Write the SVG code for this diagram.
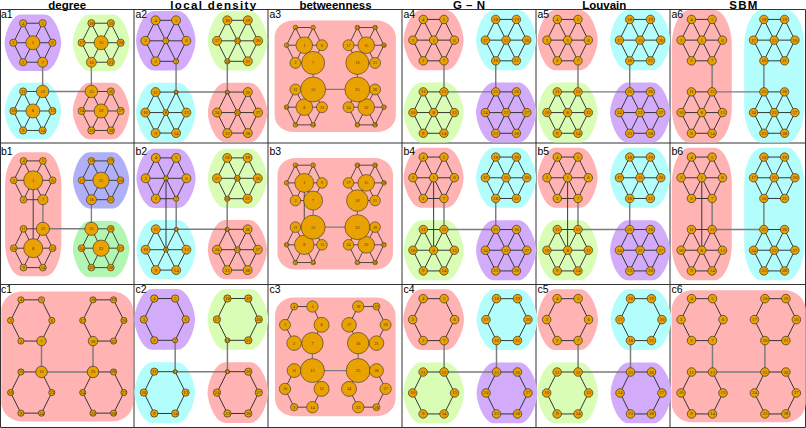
<svg xmlns="http://www.w3.org/2000/svg" width="806" height="428" viewBox="0 0 806 428">
<style>
.e{fill:none;stroke:#333;stroke-width:.95}
.x{fill:none;stroke:#7c7c7c;stroke-width:1.4}
.n circle{fill:#E9A200;stroke:#262626;stroke-width:.6}
.l{font-family:"Liberation Serif","DejaVu Serif",serif;font-size:4.6px;fill:#4a2400;text-anchor:middle;dominant-baseline:central}
.t{font-family:"Liberation Sans",Arial,sans-serif;font-weight:bold;font-size:11.5px;text-anchor:middle;fill:#000}
.p{font-family:"Liberation Sans",Arial,sans-serif;font-size:10.5px;fill:#000}
.fr{fill:none;stroke:#333;stroke-width:1}
.R{fill:#FFB3B3}.G{fill:#D9FDB4}.C{fill:#B3FDFD}.P{fill:#D2ABFA}.B{fill:#B0B0F8}.Gr{fill:#B3F6B3}
</style>
<defs>
<path id="B1" d="M-12,-29L12,-29C22,-29 29,-9 29,0C29,9 22,29 12,29L-12,29C-22,29 -29,9 -29,0C-29,-9 -22,-29 -12,-29Z"/>
<path id="BV" d="M-12,-64L12,-64C22,-64 29,-46 29,-30L29,30C29,46 22,64 12,64L-12,64C-22,64 -29,46 -29,30L-29,-30C-29,-46 -22,-64 -12,-64Z"/>
<path id="BA" d="M-44,-63L44,-63C55,-63 64,-54 64,-44L64,44C64,55 55,63 44,63L-44,63C-55,63 -64,55 -64,44L-64,-44C-64,-55 -55,-63 -44,-63Z"/>
<path id="H" class="e" d="M-45,-55L-25,-55L-15,-35L-25,-15L-45,-15L-55,-35Z M25,-55L45,-55L55,-35L45,-15L25,-15L15,-35Z M-45,15L-25,15L-15,35L-25,55L-45,55L-55,35Z M25,15L45,15L55,35L45,55L25,55L15,35Z"/>
<path id="S" class="e" d="M-45,-55L-25,-15M-25,-55L-45,-15M-55,-35L-15,-35 M25,-55L45,-15M45,-55L25,-15M15,-35L55,-35 M-45,15L-25,55M-25,15L-45,55M-55,35L-15,35 M25,15L45,55M45,15L25,55M15,35L55,35"/>
<path id="X" class="x" d="M-25,-15L-25,15L25,15L25,-15"/>
<path id="Y" class="e" d="M-35,-35L-35,35"/>
<g id="Lf" class="l">
<text x="-35" y="-35">1</text><text x="-45" y="-15">2</text><text x="-55" y="-35">3</text><text x="-45" y="-55">4</text><text x="-25" y="-55">5</text><text x="-15" y="-35">6</text><text x="-25" y="-15">7</text>
<text x="-35" y="35">8</text><text x="-45" y="55">9</text><text x="-55" y="35">10</text><text x="-45" y="15">11</text><text x="-25" y="15">12</text><text x="-15" y="35">13</text><text x="-25" y="55">14</text>
<text x="35" y="-35">15</text><text x="25" y="-15">16</text><text x="15" y="-35">17</text><text x="25" y="-55">18</text><text x="45" y="-55">19</text><text x="55" y="-35">20</text><text x="45" y="-15">21</text>
<text x="35" y="35">22</text><text x="25" y="55">23</text><text x="15" y="35">24</text><text x="25" y="15">25</text><text x="45" y="15">26</text><text x="55" y="35">27</text><text x="45" y="55">28</text>
</g>
<g id="Lc" class="l">
<text x="-45" y="-15">2</text><text x="-55" y="-35">3</text><text x="-45" y="-55">4</text><text x="-25" y="-55">5</text><text x="-15" y="-35">6</text><text x="-25" y="-15">7</text>
<text x="-45" y="55">9</text><text x="-55" y="35">10</text><text x="-45" y="15">11</text><text x="-25" y="15">12</text><text x="-15" y="35">13</text><text x="-25" y="55">14</text>
<text x="25" y="-15">16</text><text x="15" y="-35">17</text><text x="25" y="-55">18</text><text x="45" y="-55">19</text><text x="55" y="-35">20</text><text x="45" y="-15">21</text>
<text x="25" y="55">23</text><text x="15" y="35">24</text><text x="25" y="15">25</text><text x="45" y="15">26</text><text x="55" y="35">27</text><text x="45" y="55">28</text>
</g>
<g id="Na1" class="n">
<circle cx="-35" cy="-35" r="7.2"/><circle cx="-45" cy="-15" r="3.7"/><circle cx="-55" cy="-35" r="3.7"/><circle cx="-45" cy="-55" r="3.7"/><circle cx="-25" cy="-55" r="3.7"/><circle cx="-15" cy="-35" r="3.7"/><circle cx="-25" cy="-15" r="5.1"/>
<circle cx="-35" cy="35" r="7.2"/><circle cx="-45" cy="55" r="3.7"/><circle cx="-55" cy="35" r="3.7"/><circle cx="-45" cy="15" r="3.7"/><circle cx="-25" cy="15" r="6.4"/><circle cx="-15" cy="35" r="3.7"/><circle cx="-25" cy="55" r="3.7"/>
<circle cx="35" cy="-35" r="7.2"/><circle cx="25" cy="-15" r="5.1"/><circle cx="15" cy="-35" r="3.7"/><circle cx="25" cy="-55" r="3.7"/><circle cx="45" cy="-55" r="3.7"/><circle cx="55" cy="-35" r="3.7"/><circle cx="45" cy="-15" r="3.7"/>
<circle cx="35" cy="35" r="7.2"/><circle cx="25" cy="55" r="3.7"/><circle cx="15" cy="35" r="3.7"/><circle cx="25" cy="15" r="6.4"/><circle cx="45" cy="15" r="3.7"/><circle cx="55" cy="35" r="3.7"/><circle cx="45" cy="55" r="3.7"/>
</g>
<g id="Na2" class="n">
<circle cx="-35" cy="-35" r="2.9"/><circle cx="-45" cy="-15" r="4.4"/><circle cx="-55" cy="-35" r="4.4"/><circle cx="-45" cy="-55" r="4.4"/><circle cx="-25" cy="-55" r="4.4"/><circle cx="-15" cy="-35" r="4.4"/><circle cx="-25" cy="-15" r="2.6"/>
<circle cx="-35" cy="35" r="2.9"/><circle cx="-45" cy="55" r="4.4"/><circle cx="-55" cy="35" r="4.4"/><circle cx="-45" cy="15" r="4.4"/><circle cx="-25" cy="15" r="2.0"/><circle cx="-15" cy="35" r="4.4"/><circle cx="-25" cy="55" r="4.4"/>
<circle cx="35" cy="-35" r="2.9"/><circle cx="25" cy="-15" r="2.6"/><circle cx="15" cy="-35" r="4.4"/><circle cx="25" cy="-55" r="4.4"/><circle cx="45" cy="-55" r="4.4"/><circle cx="55" cy="-35" r="4.4"/><circle cx="45" cy="-15" r="4.4"/>
<circle cx="35" cy="35" r="2.9"/><circle cx="25" cy="55" r="4.4"/><circle cx="15" cy="35" r="4.4"/><circle cx="25" cy="15" r="2.0"/><circle cx="45" cy="15" r="4.4"/><circle cx="55" cy="35" r="4.4"/><circle cx="45" cy="55" r="4.4"/>
</g>
<g id="Nb2" class="n">
<circle cx="-35" cy="-35" r="2.4"/><circle cx="-45" cy="-15" r="4.4"/><circle cx="-55" cy="-35" r="4.4"/><circle cx="-45" cy="-55" r="4.4"/><circle cx="-25" cy="-55" r="4.4"/><circle cx="-15" cy="-35" r="4.4"/><circle cx="-25" cy="-15" r="2.6"/>
<circle cx="-35" cy="35" r="2.4"/><circle cx="-45" cy="55" r="4.4"/><circle cx="-55" cy="35" r="4.4"/><circle cx="-45" cy="15" r="4.4"/><circle cx="-25" cy="15" r="2.0"/><circle cx="-15" cy="35" r="4.4"/><circle cx="-25" cy="55" r="4.4"/>
<circle cx="35" cy="-35" r="2.9"/><circle cx="25" cy="-15" r="2.6"/><circle cx="15" cy="-35" r="4.4"/><circle cx="25" cy="-55" r="4.4"/><circle cx="45" cy="-55" r="4.4"/><circle cx="55" cy="-35" r="4.4"/><circle cx="45" cy="-15" r="4.4"/>
<circle cx="35" cy="35" r="2.9"/><circle cx="25" cy="55" r="4.4"/><circle cx="15" cy="35" r="4.4"/><circle cx="25" cy="15" r="2.0"/><circle cx="45" cy="15" r="4.4"/><circle cx="55" cy="35" r="4.4"/><circle cx="45" cy="55" r="4.4"/>
</g>
<g id="Na3" class="n">
<circle cx="-35" cy="-35" r="9.4"/><circle cx="-45" cy="-15" r="6.2"/><circle cx="-55" cy="-35" r="2.6"/><circle cx="-45" cy="-55" r="2.6"/><circle cx="-25" cy="-55" r="2.6"/><circle cx="-15" cy="-35" r="6.2"/><circle cx="-25" cy="-15" r="13"/>
<circle cx="-35" cy="35" r="9.4"/><circle cx="-45" cy="55" r="2.6"/><circle cx="-55" cy="35" r="2.6"/><circle cx="-45" cy="15" r="6.2"/><circle cx="-25" cy="15" r="14.1"/><circle cx="-15" cy="35" r="6.2"/><circle cx="-25" cy="55" r="2.6"/>
<circle cx="35" cy="-35" r="9.4"/><circle cx="25" cy="-15" r="13"/><circle cx="15" cy="-35" r="6.2"/><circle cx="25" cy="-55" r="2.6"/><circle cx="45" cy="-55" r="2.6"/><circle cx="55" cy="-35" r="2.6"/><circle cx="45" cy="-15" r="6.2"/>
<circle cx="35" cy="35" r="9.4"/><circle cx="25" cy="55" r="2.6"/><circle cx="15" cy="35" r="6.2"/><circle cx="25" cy="15" r="14.1"/><circle cx="45" cy="15" r="6.2"/><circle cx="55" cy="35" r="2.6"/><circle cx="45" cy="55" r="2.6"/>
</g>
<g id="Nb3" class="n">
<circle cx="-35" cy="-35" r="10.7"/><circle cx="-45" cy="-15" r="6"/><circle cx="-55" cy="-35" r="2.6"/><circle cx="-45" cy="-55" r="2.6"/><circle cx="-25" cy="-55" r="2.6"/><circle cx="-15" cy="-35" r="6"/><circle cx="-25" cy="-15" r="10.7"/>
<circle cx="-35" cy="35" r="11"/><circle cx="-45" cy="55" r="2.6"/><circle cx="-55" cy="35" r="2.6"/><circle cx="-45" cy="15" r="6"/><circle cx="-25" cy="15" r="13.6"/><circle cx="-15" cy="35" r="6"/><circle cx="-25" cy="55" r="2.6"/>
<circle cx="35" cy="-35" r="9.4"/><circle cx="25" cy="-15" r="12.2"/><circle cx="15" cy="-35" r="6"/><circle cx="25" cy="-55" r="2.6"/><circle cx="45" cy="-55" r="2.6"/><circle cx="55" cy="-35" r="2.6"/><circle cx="45" cy="-15" r="6"/>
<circle cx="35" cy="35" r="9.4"/><circle cx="25" cy="55" r="2.6"/><circle cx="15" cy="35" r="6"/><circle cx="25" cy="15" r="14.1"/><circle cx="45" cy="15" r="6"/><circle cx="55" cy="35" r="2.6"/><circle cx="45" cy="55" r="2.6"/>
</g>
<g id="Nb1" class="n">
<circle cx="-35" cy="-35" r="9.8"/><circle cx="-45" cy="-15" r="3.5"/><circle cx="-55" cy="-35" r="3.5"/><circle cx="-45" cy="-55" r="3.5"/><circle cx="-25" cy="-55" r="3.5"/><circle cx="-15" cy="-35" r="3.5"/><circle cx="-25" cy="-15" r="5.2"/>
<circle cx="-35" cy="35" r="9.8"/><circle cx="-45" cy="55" r="3.5"/><circle cx="-55" cy="35" r="3.5"/><circle cx="-45" cy="15" r="3.5"/><circle cx="-25" cy="15" r="6.8"/><circle cx="-15" cy="35" r="3.5"/><circle cx="-25" cy="55" r="3.5"/>
<circle cx="35" cy="-35" r="8.4"/><circle cx="25" cy="-15" r="5.2"/><circle cx="15" cy="-35" r="3.5"/><circle cx="25" cy="-55" r="3.5"/><circle cx="45" cy="-55" r="3.5"/><circle cx="55" cy="-35" r="3.5"/><circle cx="45" cy="-15" r="3.5"/>
<circle cx="35" cy="35" r="8.4"/><circle cx="25" cy="55" r="3.5"/><circle cx="15" cy="35" r="3.5"/><circle cx="25" cy="15" r="6.8"/><circle cx="45" cy="15" r="3.5"/><circle cx="55" cy="35" r="3.5"/><circle cx="45" cy="55" r="3.5"/>
</g>
<g id="NU" class="n">
<circle cx="-35" cy="-35" r="4.1"/><circle cx="-45" cy="-15" r="4.1"/><circle cx="-55" cy="-35" r="4.1"/><circle cx="-45" cy="-55" r="4.1"/><circle cx="-25" cy="-55" r="4.1"/><circle cx="-15" cy="-35" r="4.1"/><circle cx="-25" cy="-15" r="4.1"/>
<circle cx="-35" cy="35" r="4.1"/><circle cx="-45" cy="55" r="4.1"/><circle cx="-55" cy="35" r="4.1"/><circle cx="-45" cy="15" r="4.1"/><circle cx="-25" cy="15" r="4.1"/><circle cx="-15" cy="35" r="4.1"/><circle cx="-25" cy="55" r="4.1"/>
<circle cx="35" cy="-35" r="4.1"/><circle cx="25" cy="-15" r="4.1"/><circle cx="15" cy="-35" r="4.1"/><circle cx="25" cy="-55" r="4.1"/><circle cx="45" cy="-55" r="4.1"/><circle cx="55" cy="-35" r="4.1"/><circle cx="45" cy="-15" r="4.1"/>
<circle cx="35" cy="35" r="4.1"/><circle cx="25" cy="55" r="4.1"/><circle cx="15" cy="35" r="4.1"/><circle cx="25" cy="15" r="4.1"/><circle cx="45" cy="15" r="4.1"/><circle cx="55" cy="35" r="4.1"/><circle cx="45" cy="55" r="4.1"/>
</g>
<g id="Nc1" class="n">
<circle cx="-45" cy="-15" r="3"/><circle cx="-55" cy="-35" r="3"/><circle cx="-45" cy="-55" r="3"/><circle cx="-25" cy="-55" r="3"/><circle cx="-15" cy="-35" r="3"/><circle cx="-25" cy="-15" r="4.6"/>
<circle cx="-45" cy="55" r="3"/><circle cx="-55" cy="35" r="3"/><circle cx="-45" cy="15" r="3"/><circle cx="-25" cy="15" r="5.6"/><circle cx="-15" cy="35" r="3"/><circle cx="-25" cy="55" r="3"/>
<circle cx="25" cy="-15" r="4.6"/><circle cx="15" cy="-35" r="3"/><circle cx="25" cy="-55" r="3"/><circle cx="45" cy="-55" r="3"/><circle cx="55" cy="-35" r="3"/><circle cx="45" cy="-15" r="3"/>
<circle cx="25" cy="55" r="3"/><circle cx="15" cy="35" r="3"/><circle cx="25" cy="15" r="5.6"/><circle cx="45" cy="15" r="3"/><circle cx="55" cy="35" r="3"/><circle cx="45" cy="55" r="3"/>
</g>
<g id="Nc2" class="n">
<circle cx="-45" cy="-15" r="3.5"/><circle cx="-55" cy="-35" r="3.5"/><circle cx="-45" cy="-55" r="3.5"/><circle cx="-25" cy="-55" r="3.5"/><circle cx="-15" cy="-35" r="3.5"/><circle cx="-25" cy="-15" r="2.4"/>
<circle cx="-45" cy="55" r="3.5"/><circle cx="-55" cy="35" r="3.5"/><circle cx="-45" cy="15" r="3.5"/><circle cx="-25" cy="15" r="2"/><circle cx="-15" cy="35" r="3.5"/><circle cx="-25" cy="55" r="3.5"/>
<circle cx="25" cy="-15" r="2.4"/><circle cx="15" cy="-35" r="3.5"/><circle cx="25" cy="-55" r="3.5"/><circle cx="45" cy="-55" r="3.5"/><circle cx="55" cy="-35" r="3.5"/><circle cx="45" cy="-15" r="3.5"/>
<circle cx="25" cy="55" r="3.5"/><circle cx="15" cy="35" r="3.5"/><circle cx="25" cy="15" r="2"/><circle cx="45" cy="15" r="3.5"/><circle cx="55" cy="35" r="3.5"/><circle cx="45" cy="55" r="3.5"/>
</g>
<g id="Nc3" class="n">
<circle cx="-45" cy="-15" r="8"/><circle cx="-55" cy="-35" r="6"/><circle cx="-45" cy="-55" r="3.8"/><circle cx="-25" cy="-55" r="6.2"/><circle cx="-15" cy="-35" r="8.2"/><circle cx="-25" cy="-15" r="11.7"/>
<circle cx="-45" cy="55" r="4"/><circle cx="-55" cy="35" r="6.2"/><circle cx="-45" cy="15" r="7.6"/><circle cx="-25" cy="15" r="13.1"/><circle cx="-15" cy="35" r="8.2"/><circle cx="-25" cy="55" r="6.3"/>
<circle cx="25" cy="-15" r="11.7"/><circle cx="15" cy="-35" r="8"/><circle cx="25" cy="-55" r="6.2"/><circle cx="45" cy="-55" r="3.8"/><circle cx="55" cy="-35" r="6"/><circle cx="45" cy="-15" r="8"/>
<circle cx="25" cy="55" r="6.3"/><circle cx="15" cy="35" r="8.2"/><circle cx="25" cy="15" r="13.1"/><circle cx="45" cy="15" r="7.6"/><circle cx="55" cy="35" r="6.2"/><circle cx="45" cy="55" r="3.8"/>
</g>
<g id="NUc" class="n">
<circle cx="-45" cy="-15" r="4.1"/><circle cx="-55" cy="-35" r="4.1"/><circle cx="-45" cy="-55" r="4.1"/><circle cx="-25" cy="-55" r="4.1"/><circle cx="-15" cy="-35" r="4.1"/><circle cx="-25" cy="-15" r="4.1"/>
<circle cx="-45" cy="55" r="4.1"/><circle cx="-55" cy="35" r="4.1"/><circle cx="-45" cy="15" r="4.1"/><circle cx="-25" cy="15" r="4.1"/><circle cx="-15" cy="35" r="4.1"/><circle cx="-25" cy="55" r="4.1"/>
<circle cx="25" cy="-15" r="4.1"/><circle cx="15" cy="-35" r="4.1"/><circle cx="25" cy="-55" r="4.1"/><circle cx="45" cy="-55" r="4.1"/><circle cx="55" cy="-35" r="4.1"/><circle cx="45" cy="-15" r="4.1"/>
<circle cx="25" cy="55" r="4.1"/><circle cx="15" cy="35" r="4.1"/><circle cx="25" cy="15" r="4.1"/><circle cx="45" cy="15" r="4.1"/><circle cx="55" cy="35" r="4.1"/><circle cx="45" cy="55" r="4.1"/>
</g>
</defs>
<rect width="806" height="428" fill="#fff"/>
<g id="titles" class="t">
<text x="67.2" y="9">degree</text>
<text x="213.2" y="9" textLength="86">local density</text>
<text x="335.5" y="9">betweenness</text>
<text x="469" y="9" textLength="32">G–N</text>
<text x="604.3" y="9">Louvain</text>
<text x="743.3" y="9" textLength="28">SBM</text>
</g>
<g id="frames" class="fr">
<path d="M0.5,9.5H805.5M0.5,143H805.5M0.5,284.5H805.5M0.5,427.5H805.5M0.5,9.5V427.5M134,9.5V427.5M268,9.5V427.5M402,9.5V427.5M536,9.5V427.5M670,9.5V427.5M805.5,9.5V427.5"/>
</g>
<g id="a1" transform="translate(67,76.85) scale(.975)">
<use href="#B1" class="P" x="-35" y="-35"/><use href="#B1" class="G" x="35" y="-35"/><use href="#B1" class="C" x="-35" y="35"/><use href="#B1" class="R" x="35" y="35"/>
<g class="edges"><use href="#H"/><use href="#S"/><use href="#X"/></g>
<use href="#Na1"/><use href="#Lf"/>
</g>
<g id="a2" transform="translate(201.7,76.7) scale(1.025)">
<use href="#B1" class="P" x="-35" y="-35"/><use href="#B1" class="G" x="35" y="-35"/><use href="#B1" class="C" x="-35" y="35"/><use href="#B1" class="R" x="35" y="35"/>
<g class="edges"><use href="#H"/><use href="#S"/><use href="#X"/></g>
<use href="#Na2"/><use href="#Lf"/>
</g>
<g id="a3" transform="translate(335.25,76.2) scale(.885)">
<use href="#BA" class="R" transform="scale(1.07,1)"/>
<g class="edges"><use href="#H"/><use href="#S"/><use href="#X"/></g>
<use href="#Na3"/><use href="#Lf"/>
</g>
<g id="a4" transform="translate(469.85,76.35) scale(1.035)">
<use href="#B1" class="R" x="-35" y="-35"/><use href="#B1" class="C" x="35" y="-35"/><use href="#B1" class="G" x="-35" y="35"/><use href="#B1" class="P" x="35" y="35"/>
<g class="edges"><use href="#H"/><use href="#S"/><use href="#X"/></g>
<use href="#NU"/><use href="#Lf"/>
</g>
<g id="a5" transform="translate(603.85,76.35) scale(1.035)">
<use href="#B1" class="R" x="-35" y="-35"/><use href="#B1" class="C" x="35" y="-35"/><use href="#B1" class="G" x="-35" y="35"/><use href="#B1" class="P" x="35" y="35"/>
<g class="edges"><use href="#H"/><use href="#S"/><use href="#X"/></g>
<use href="#NU"/><use href="#Lf"/>
</g>
<g id="a6" transform="translate(738,76.35) scale(1.035)">
<use href="#BV" class="R" x="-35"/><use href="#BV" class="C" x="35"/>
<g class="edges"><use href="#H"/><use href="#S"/><use href="#X"/></g>
<use href="#NU"/><use href="#Lf"/>
</g>
<g id="b1" transform="translate(67.15,214.25) scale(.97)">
<use href="#BV" class="R" x="-35"/><use href="#B1" class="B" x="35" y="-35"/><use href="#B1" class="Gr" x="35" y="36"/>
<g class="edges"><use href="#H"/><use href="#S"/><use href="#X"/><use href="#Y"/></g>
<use href="#Nb1"/><use href="#Lf"/>
</g>
<g id="b2" transform="translate(201.7,214) scale(1.02)">
<use href="#B1" class="P" x="-35" y="-35"/><use href="#B1" class="G" x="35" y="-35"/><use href="#B1" class="C" x="-35" y="35"/><use href="#B1" class="R" x="35" y="35"/>
<g class="edges"><use href="#H"/><use href="#S"/><use href="#X"/><use href="#Y"/></g>
<use href="#Nb2"/><use href="#Lf"/>
</g>
<g id="b3" transform="translate(335.25,213.85) scale(.885)">
<use href="#BA" class="R" transform="scale(1.02,1)"/>
<g class="edges"><use href="#H"/><use href="#S"/><use href="#X"/><use href="#Y"/></g>
<use href="#Nb3"/><use href="#Lf"/>
</g>
<g id="b4" transform="translate(469.85,214) scale(1.035)">
<use href="#B1" class="R" x="-35" y="-35"/><use href="#B1" class="C" x="35" y="-35"/><use href="#B1" class="G" x="-35" y="35"/><use href="#B1" class="P" x="35" y="35"/>
<g class="edges"><use href="#H"/><use href="#S"/><use href="#X"/><use href="#Y"/></g>
<use href="#NU"/><use href="#Lf"/>
</g>
<g id="b5" transform="translate(603.85,214) scale(1.035)">
<use href="#B1" class="R" x="-35" y="-35"/><use href="#B1" class="C" x="35" y="-35"/><use href="#B1" class="G" x="-35" y="35"/><use href="#B1" class="P" x="35" y="35"/>
<g class="edges"><use href="#H"/><use href="#S"/><use href="#X"/><use href="#Y"/></g>
<use href="#NU"/><use href="#Lf"/>
</g>
<g id="b6" transform="translate(738,214) scale(1.035)">
<use href="#BV" class="R" x="-35"/><use href="#BV" class="C" x="35"/>
<g class="edges"><use href="#H"/><use href="#S"/><use href="#X"/><use href="#Y"/></g>
<use href="#NU"/><use href="#Lf"/>
</g>
<g id="c1" transform="translate(67.25,356.5) scale(1.03)">
<use href="#BA" class="R"/>
<g class="edges"><use href="#H"/><use href="#X"/></g>
<use href="#Nc1"/><use href="#Lc"/>
</g>
<g id="c2" transform="translate(201.3,356) scale(1.045)">
<use href="#B1" class="P" x="-35" y="-35"/><use href="#B1" class="G" x="35" y="-35"/><use href="#B1" class="C" x="-35" y="35"/><use href="#B1" class="R" x="35" y="35"/>
<g class="edges"><use href="#H"/><use href="#X"/></g>
<use href="#Nc2"/><use href="#Lc"/>
</g>
<g id="c3" transform="translate(335.3,356.85) scale(.915)">
<use href="#BA" class="R" transform="scale(1.03)"/>
<g class="edges"><use href="#H"/><use href="#X"/></g>
<use href="#Nc3"/><use href="#Lc"/>
</g>
<g id="c4" transform="translate(470.3,356.3) scale(1.048)">
<use href="#B1" class="R" x="-35" y="-35"/><use href="#B1" class="C" x="35" y="-35"/><use href="#B1" class="G" x="-35" y="35"/><use href="#B1" class="P" x="35" y="35"/>
<g class="edges"><use href="#H"/><use href="#X"/></g>
<use href="#NUc"/><use href="#Lc"/>
</g>
<g id="c5" transform="translate(604.3,356.3) scale(1.048)">
<use href="#B1" class="R" x="-35" y="-35"/><use href="#B1" class="C" x="35" y="-35"/><use href="#B1" class="G" x="-35" y="35"/><use href="#B1" class="P" x="35" y="35"/>
<g class="edges"><use href="#H"/><use href="#X"/></g>
<use href="#NUc"/><use href="#Lc"/>
</g>
<g id="c6" transform="translate(738.7,356.3) scale(1.048)">
<use href="#BA" class="R"/>
<g class="edges"><use href="#H"/><use href="#X"/></g>
<use href="#NUc"/><use href="#Lc"/>
</g>
<g id="panel-labels" class="p">
<text x="1" y="17.5">a1</text><text x="135.5" y="17.5">a2</text><text x="269.5" y="17.5">a3</text><text x="403.5" y="17.5">a4</text><text x="537.5" y="17.5">a5</text><text x="671.5" y="17.5">a6</text>
<text x="1" y="154.5">b1</text><text x="135.5" y="154.5">b2</text><text x="269.5" y="154.5">b3</text><text x="403.5" y="154.5">b4</text><text x="537.5" y="154.5">b5</text><text x="671.5" y="154.5">b6</text>
<text x="1" y="293">c1</text><text x="135.5" y="293">c2</text><text x="269.5" y="293">c3</text><text x="403.5" y="293">c4</text><text x="537.5" y="293">c5</text><text x="671.5" y="293">c6</text>
</g>
</svg>
